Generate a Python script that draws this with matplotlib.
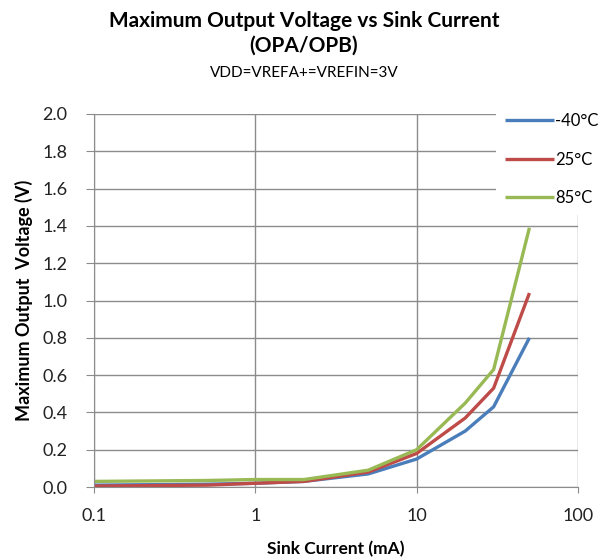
import matplotlib.pyplot as plt
import numpy as np

# sink current (mA) and max output voltage (V) per temperature
current = [0.1, 0.5, 1, 2, 5, 10, 20, 30, 50]
v_m40 = [0.01, 0.015, 0.02, 0.03, 0.07, 0.15, 0.30, 0.43, 0.80]
v_25 = [0.005, 0.01, 0.02, 0.03, 0.08, 0.18, 0.37, 0.53, 1.04]
v_85 = [0.03, 0.035, 0.04, 0.04, 0.09, 0.20, 0.45, 0.63, 1.39]
labels = ['-40°C', '25°C', '85°C']
colors = ['#4A7EBB', '#BE4B48', '#98B954']

plt.rcParams['font.family'] = ['Lato', 'DejaVu Sans']

fig = plt.figure(figsize=(6.08, 5.59), dpi=100)
ax = fig.add_axes([94/608, 1-487/559, (578-94)/608, (487-114)/559])

for v, lab, c in zip([v_m40, v_25, v_85], labels, colors):
    ax.plot(current, v, color=c, lw=2.4, label=lab, solid_capstyle='butt')

ax.set_xscale('log')
ax.set_xlim(0.1, 100)
ax.set_ylim(0, 2.0)
ax.set_xticks([0.1, 1, 10, 100])
ax.set_xticklabels(['0.1', '1', '10', '100'])
ax.xaxis.set_minor_locator(plt.NullLocator())
ax.set_yticks(np.arange(0, 2.01, 0.2))
ax.set_yticklabels(['%.1f' % t for t in np.arange(0, 2.01, 0.2)])
ax.grid(True, color='#8c8c8c', lw=1)
ax.set_axisbelow(True)
for s in ['top', 'right']:
    ax.spines[s].set_visible(False)
ax.spines['left'].set_color('#8c8c8c')
ax.spines['bottom'].set_color('#8c8c8c')
ax.tick_params(axis='both', colors='#8c8c8c', labelcolor='#222222', labelsize=13, direction='out')
ax.tick_params(axis='y', length=6, pad=13)
ax.tick_params(axis='x', length=4, pad=11)

ax.set_xlabel('Sink Current (mA)', fontsize=12.5, fontweight='bold', labelpad=12)
ax.set_ylabel('Maximum Output  Voltage (V)', fontsize=13, fontweight='bold', labelpad=7)

fig.text(0.5, 1-21/559, 'Maximum Output Voltage vs Sink Current', ha='center', va='center', fontsize=15, fontweight='bold')
fig.text(0.5, 1-46/559, '(OPA/OPB)', ha='center', va='center', fontsize=15, fontweight='bold')
fig.text(0.5, 1-73/559, 'VDD=VREFA+=VREFIN=3V', ha='center', va='center', fontsize=11)

leg = ax.legend(loc='upper left', bbox_to_anchor=(496/608, 1-104/559), bbox_transform=fig.transFigure,
                frameon=True, fontsize=12, handlelength=2.9, handletextpad=0.1, labelspacing=1.35,
                borderpad=0.55, borderaxespad=0, fancybox=False)
leg.get_frame().set_facecolor('white')
leg.get_frame().set_edgecolor('none')
leg.get_frame().set_alpha(1)

fig.savefig('out.png', dpi=100)
